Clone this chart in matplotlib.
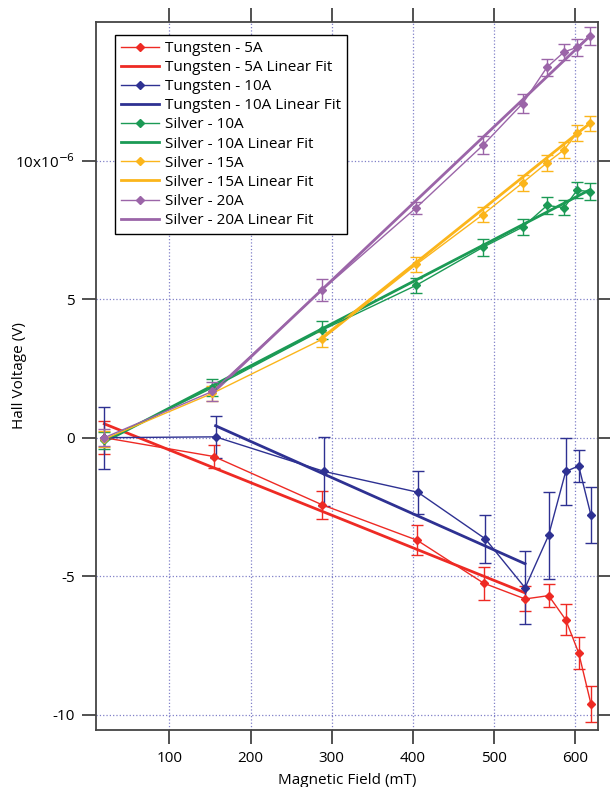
import matplotlib
matplotlib.use('Agg')
import matplotlib.pyplot as plt
from matplotlib.ticker import FixedLocator, FuncFormatter

plt.rcParams['font.family'] = ['Open Sans', 'DejaVu Sans']

# Magnetic field (mT)
w5_x = [20, 155, 288, 405, 487, 538, 567, 588, 604, 619]
w10_x = [20, 157, 291, 406, 489, 538, 567, 588, 604, 619]
ag_x = [20, 153, 288, 404, 486, 535, 565, 586, 602, 618]

# Hall voltage (x1e-6 V)
w5_y = [0.0, -0.68, -2.42, -3.7, -5.25, -5.82, -5.7, -6.57, -7.77, -9.6]
w5_err = [0.6, 0.4, 0.5, 0.55, 0.6, 0.45, 0.42, 0.55, 0.57, 0.65]
w10_y = [0.0, 0.03, -1.22, -1.97, -3.65, -5.42, -3.52, -1.22, -1.02, -2.79]
w10_err = [1.12, 0.77, 1.25, 0.78, 0.87, 1.32, 1.57, 1.22, 0.57, 1.0]
ag10_y = [-0.1, 1.8, 3.88, 5.5, 6.87, 7.6, 8.38, 8.3, 8.93, 8.88]
ag10_err = [0.3, 0.3, 0.32, 0.28, 0.3, 0.3, 0.3, 0.28, 0.28, 0.3]
ag15_y = [-0.05, 1.6, 3.55, 6.25, 8.05, 9.2, 9.92, 10.39, 11.0, 11.34]
ag15_err = [0.28, 0.28, 0.26, 0.28, 0.28, 0.28, 0.28, 0.28, 0.28, 0.28]
ag20_y = [0.0, 1.67, 5.33, 8.3, 10.55, 12.06, 13.37, 13.92, 14.09, 14.49]
ag20_err = [0.3, 0.33, 0.38, 0.22, 0.32, 0.33, 0.3, 0.3, 0.3, 0.32]

# linear fit end points
w5_fit_x = [20, 538]
w5_fit_y = [0.5, -5.6]
w10_fit_x = [157, 538]
w10_fit_y = [0.43, -4.55]
ag10_fit_x = [20, 618]
ag10_fit_y = [-0.15, 8.95]
ag15_fit_x = [288, 618]
ag15_fit_y = [3.6, 11.35]
ag20_fit_x = [153, 618]
ag20_fit_y = [1.6, 14.5]

series = [
    ('Tungsten - 5A', w5_x, w5_y, w5_err, w5_fit_x, w5_fit_y, '#EE2A24'),
    ('Tungsten - 10A', w10_x, w10_y, w10_err, w10_fit_x, w10_fit_y, '#2E3192'),
    ('Silver - 10A', ag_x, ag10_y, ag10_err, ag10_fit_x, ag10_fit_y, '#1B9A55'),
    ('Silver - 15A', ag_x, ag15_y, ag15_err, ag15_fit_x, ag15_fit_y, '#FBB51B'),
    ('Silver - 20A', ag_x, ag20_y, ag20_err, ag20_fit_x, ag20_fit_y, '#9B65A8'),
]

fig = plt.figure(figsize=(6.1, 7.87), dpi=100)
ax = fig.add_axes([0.157, 0.0724, 0.823, 0.8996])

handles = []
labels = []
for name, x, y, err, fx, fy, col in series:
    eb = ax.errorbar(x, y, yerr=err, color=col, lw=1.0, marker='D', ms=4,
                     elinewidth=1.0, capsize=4.5, capthick=1.0)
    fit, = ax.plot(fx, fy, color=col, lw=2.0)
    handles += [eb[0], fit]
    labels += [name, name + ' Linear Fit']

ax.set_xlim(9.5, 627.5)
ax.set_ylim(-10.55, 15.0)
ax.xaxis.set_major_locator(FixedLocator([100, 200, 300, 400, 500, 600]))
ax.yaxis.set_major_locator(FixedLocator([-10, -5, 0, 5, 10]))


def ylab(v, pos):
    if v == 10:
        return '10x10$^{-6}$'
    return '%d' % v


ax.yaxis.set_major_formatter(FuncFormatter(ylab))
ax.grid(True, color='#8080C8', linestyle=':', linewidth=0.9)
ax.set_axisbelow(True)
ax.tick_params(direction='out', length=10, width=1.2, top=True, right=True,
               labelsize=11, colors='#333333', labelcolor='black', pad=5)
for sp in ax.spines.values():
    sp.set_linewidth(1.3)
    sp.set_color('#444444')

ax.set_xlabel('Magnetic Field (mT)', fontsize=11, labelpad=5)
ax.set_ylabel('Hall Voltage (V)', fontsize=11)
ax.yaxis.set_label_coords(-0.137, 0.5)

leg = ax.legend(handles, labels, loc='upper left', bbox_to_anchor=(0.038, 0.982),
                fontsize=11, frameon=True, fancybox=False, edgecolor='black',
                framealpha=1, handlelength=2.5, borderpad=0.4,
                labelspacing=0.27, handletextpad=0.4, borderaxespad=0)
leg.get_frame().set_linewidth(1.0)

fig.savefig('out.png', dpi=100)
